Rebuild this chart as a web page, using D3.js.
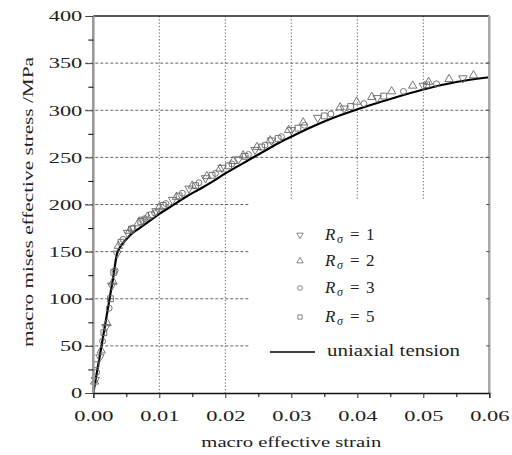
<!DOCTYPE html>
<html>
<head>
  <meta charset="utf-8">
  <title>Macro effective stress vs strain</title>
  <style>
    body { margin: 0; background: #fff; }
    text { font-family: "Liberation Serif", "Times New Roman", serif; fill: #222; }
  </style>
</head>
<body>
  <script src="https://d3js.org/d3.v7.min.js"></script>
  <script type="text/javascript">

// uniaxial tension curve
var curveStrain = [0, 0.001, 0.002, 0.003, 0.0036, 0.004, 0.005, 0.006, 0.007, 0.008, 0.009, 0.010, 0.012, 0.014, 0.016, 0.018, 0.020, 0.022, 0.024, 0.026, 0.028, 0.030, 0.033, 0.036, 0.040, 0.045, 0.050, 0.055, 0.060];
var curveStress = [0, 40, 81, 122, 148, 154, 163, 170, 175, 180, 185, 190, 199, 208, 216, 224, 233, 241, 249, 257, 265, 272, 282, 291, 301, 312, 322, 330, 335];

// R_sigma = 1 (down triangles)
var r1Strain = [0.0003, 0.001, 0.0019, 0.0028, 0.0036, 0.0052, 0.0075, 0.0095, 0.012, 0.0145, 0.017, 0.0195, 0.022, 0.0245, 0.027, 0.030, 0.034, 0.038, 0.043, 0.050, 0.056];
var r1Stress = [14, 38, 70, 114, 148, 170, 184, 193, 205, 217, 228, 239, 248, 258, 268, 279, 292, 302, 313, 326, 334];
// R_sigma = 2 (up triangles)
var r2Strain = [0.0002, 0.0012, 0.0021, 0.0030, 0.0038, 0.0055, 0.0068, 0.0082, 0.0100, 0.0126, 0.0150, 0.0172, 0.0192, 0.0212, 0.0227, 0.0248, 0.0268, 0.0296, 0.0318, 0.0374, 0.0399, 0.0422, 0.0452, 0.0484, 0.0508, 0.0539, 0.0576];
var r2Stress = [12, 45, 74, 118, 156, 172, 180, 187, 197, 208, 220, 230, 238, 246, 252, 261, 268, 279, 287, 303, 309, 314, 320, 326, 330, 333, 337];
// R_sigma = 3 (circles)
var r3Strain = [0.0005, 0.0014, 0.0024, 0.0033, 0.0045, 0.006, 0.0078, 0.0093, 0.011, 0.0135, 0.016, 0.0185, 0.021, 0.0235, 0.026, 0.0285, 0.032, 0.036, 0.041, 0.047, 0.052];
var r3Stress = [22, 55, 90, 130, 163, 175, 185, 191, 201, 212, 223, 233, 243, 253, 263, 272, 284, 296, 307, 320, 328];
// R_sigma = 5 (squares)
var r5Strain = [0.0004, 0.0016, 0.0026, 0.0031, 0.0042, 0.0058, 0.0072, 0.0088, 0.0106, 0.013, 0.0155, 0.018, 0.0205, 0.023, 0.0255, 0.028, 0.031, 0.035, 0.039, 0.044, 0.0505];
var r5Stress = [30, 64, 100, 128, 160, 174, 182, 189, 199, 209, 220, 231, 241, 251, 261, 270, 281, 294, 304, 315, 327];

var xMajor = [0, 0.01, 0.02, 0.03, 0.04, 0.05, 0.06];
var xMinor = [0.005, 0.015, 0.025, 0.035, 0.045, 0.055];
var yMajor = [0, 50, 100, 150, 200, 250, 300, 350, 400];
var yMinor = [25, 75, 125, 175, 225, 275, 325, 375];

var legendLabels = ["1", "2", "3", "5"];

var width = 512, height = 455;
var mLeft = 93.3, mRight = 489.3, mTop = 16, mBottom = 393;

var x = d3.scaleLinear().domain([0, 0.06]).range([mLeft, mRight]);
var y = d3.scaleLinear().domain([0, 400]).range([mBottom, mTop]);

var svg = d3.select("body").append("svg")
    .attr("width", width)
    .attr("height", height);

function stretch(sel, k) {
  sel.each(function() {
    var w = this.getComputedTextLength();
    d3.select(this).attr("textLength", w * k).attr("lengthAdjust", "spacingAndGlyphs");
  });
}

// grid
svg.append("g").selectAll("line")
    .data(yMajor.slice(1, -1))
    .enter().append("line")
    .attr("x1", mLeft - 8).attr("x2", mRight)
    .attr("y1", function(d) { return y(d); })
    .attr("y2", function(d) { return y(d); })
    .style("stroke", "#555").style("stroke-width", 0.9)
    .style("stroke-dasharray", "3,2");

svg.append("g").selectAll("line")
    .data(xMajor.slice(1, -1))
    .enter().append("line")
    .attr("x1", function(d) { return x(d); })
    .attr("x2", function(d) { return x(d); })
    .attr("y1", mTop).attr("y2", mBottom)
    .style("stroke", "#555").style("stroke-width", 0.9)
    .style("stroke-dasharray", "1.3,2");

// legend background hides grid
svg.append("rect")
    .attr("x", 249).attr("y", 200)
    .attr("width", mRight - 249).attr("height", mBottom - 200)
    .style("fill", "#fff");

// curve
var line = d3.line()
    .x(function(d) { return x(d[0]); })
    .y(function(d) { return y(d[1]); })
    .curve(d3.curveMonotoneX);

svg.append("path")
    .datum(d3.zip(curveStrain, curveStress))
    .attr("d", line)
    .style("fill", "none")
    .style("stroke", "#000")
    .style("stroke-width", 2.2);

// markers
var series = [
  { s: r1Strain, v: r1Stress, sym: d3.symbolTriangle, rot: 180, size: 30 },
  { s: r2Strain, v: r2Stress, sym: d3.symbolTriangle, rot: 0, size: 30 },
  { s: r3Strain, v: r3Stress, sym: d3.symbolCircle, rot: 0, size: 28 },
  { s: r5Strain, v: r5Stress, sym: d3.symbolSquare, rot: 0, size: 34 }
];

series.forEach(function(ser) {
  svg.append("g").selectAll("path")
      .data(d3.zip(ser.s, ser.v))
      .enter().append("path")
      .attr("d", d3.symbol().type(ser.sym).size(ser.size))
      .attr("transform", function(d) {
        return "translate(" + x(d[0]) + "," + y(d[1]) + ") rotate(" + ser.rot + ")";
      })
      .style("fill", "none")
      .style("stroke", "#666")
      .style("stroke-width", 0.9);
});

// frame
svg.append("line").attr("x1", mLeft).attr("x2", mRight).attr("y1", mTop).attr("y2", mTop)
    .style("stroke", "#222").style("stroke-width", 1.3);
svg.append("line").attr("x1", mRight).attr("x2", mRight).attr("y1", mTop).attr("y2", mBottom)
    .style("stroke", "#aaa").style("stroke-width", 2.6);
svg.append("line").attr("x1", mLeft).attr("x2", mLeft).attr("y1", mTop).attr("y2", mBottom)
    .style("stroke", "#999").style("stroke-width", 2.6);

// right side small ticks
svg.append("g").selectAll("line")
    .data(yMajor.slice(1, -1))
    .enter().append("line")
    .attr("x1", mRight - 3).attr("x2", mRight)
    .attr("y1", function(d) { return y(d); })
    .attr("y2", function(d) { return y(d); })
    .style("stroke", "#444");

// axes
var xAxis = svg.append("g")
    .attr("transform", "translate(0," + mBottom + ")")
    .call(d3.axisBottom(x).tickValues(xMajor).tickSize(5).tickFormat(d3.format(".2f")));
svg.append("g")
    .attr("transform", "translate(0," + mBottom + ")")
    .call(d3.axisBottom(x).tickValues(xMinor).tickSize(4).tickFormat(""))
    .call(function(g) { g.select(".domain").remove(); });

xAxis.select(".domain").style("stroke", "#111").style("stroke-width", 1.3);
xAxis.selectAll(".tick line").style("stroke", "#333");
xAxis.selectAll("text")
    .attr("y", 0).attr("dy", null)
    .attr("transform", "translate(0,28)")
    .style("font-size", "14px")
    .style("font-family", "Liberation Serif");
stretch(xAxis.selectAll("text"), 1.6);

var yAxis = svg.append("g")
    .attr("transform", "translate(" + mLeft + ",0)")
    .call(d3.axisLeft(y).tickValues(yMajor).tickSize(8).tickFormat(d3.format("d")));
svg.append("g")
    .attr("transform", "translate(" + mLeft + ",0)")
    .call(d3.axisLeft(y).tickValues(yMinor).tickSize(5).tickFormat(""))
    .call(function(g) { g.select(".domain").remove(); });

yAxis.select(".domain").remove();
yAxis.selectAll(".tick line").style("stroke", "#444");
yAxis.selectAll("text")
    .attr("x", -11)
    .attr("dy", "0.34em")
    .style("font-size", "14px")
    .style("font-family", "Liberation Serif");
stretch(yAxis.selectAll("text"), 1.6);

// axis titles
var xt = svg.append("text")
    .attr("x", (mLeft + mRight) / 2)
    .attr("y", 447)
    .attr("text-anchor", "middle")
    .style("font-size", "14px")
    .text("macro effective strain");
xt.attr("textLength", 180).attr("lengthAdjust", "spacingAndGlyphs");

var yt = svg.append("text")
    .attr("transform", "translate(33,202) rotate(-90)")
    .attr("text-anchor", "middle")
    .style("font-size", "14px")
    .text("macro mises effective stress /MPa");
yt.attr("textLength", 290).attr("lengthAdjust", "spacingAndGlyphs");

// legend
var legY = [235, 261, 288, 317];
var legSym = [
  { sym: d3.symbolTriangle, rot: 180 },
  { sym: d3.symbolTriangle, rot: 0 },
  { sym: d3.symbolCircle, rot: 0 },
  { sym: d3.symbolSquare, rot: 0 }
];

legendLabels.forEach(function(lab, i) {
  svg.append("path")
      .attr("d", d3.symbol().type(legSym[i].sym).size(18))
      .attr("transform", "translate(300," + legY[i] + ") rotate(" + legSym[i].rot + ")")
      .style("fill", "none")
      .style("stroke", "#777")
      .style("stroke-width", 0.9);

  var t = svg.append("text")
      .attr("y", legY[i] + 5)
      .style("font-size", "17px");
  t.append("tspan").attr("x", 325).style("font-style", "italic").text("R");
  t.append("tspan").attr("x", 337).attr("dy", 3).style("font-style", "italic").style("font-size", "12px").text("σ");
  t.append("tspan").attr("x", 350).attr("dy", -3).text("=");
  t.append("tspan").attr("x", 366).text(lab);
});

svg.append("line")
    .attr("x1", 270).attr("x2", 315)
    .attr("y1", 352).attr("y2", 352)
    .style("stroke", "#000").style("stroke-width", 1.6);

var lt = svg.append("text")
    .attr("x", 327).attr("y", 356)
    .style("font-size", "16px")
    .text("uniaxial tension");
lt.attr("textLength", 133).attr("lengthAdjust", "spacingAndGlyphs");

  </script>
</body>
</html>
